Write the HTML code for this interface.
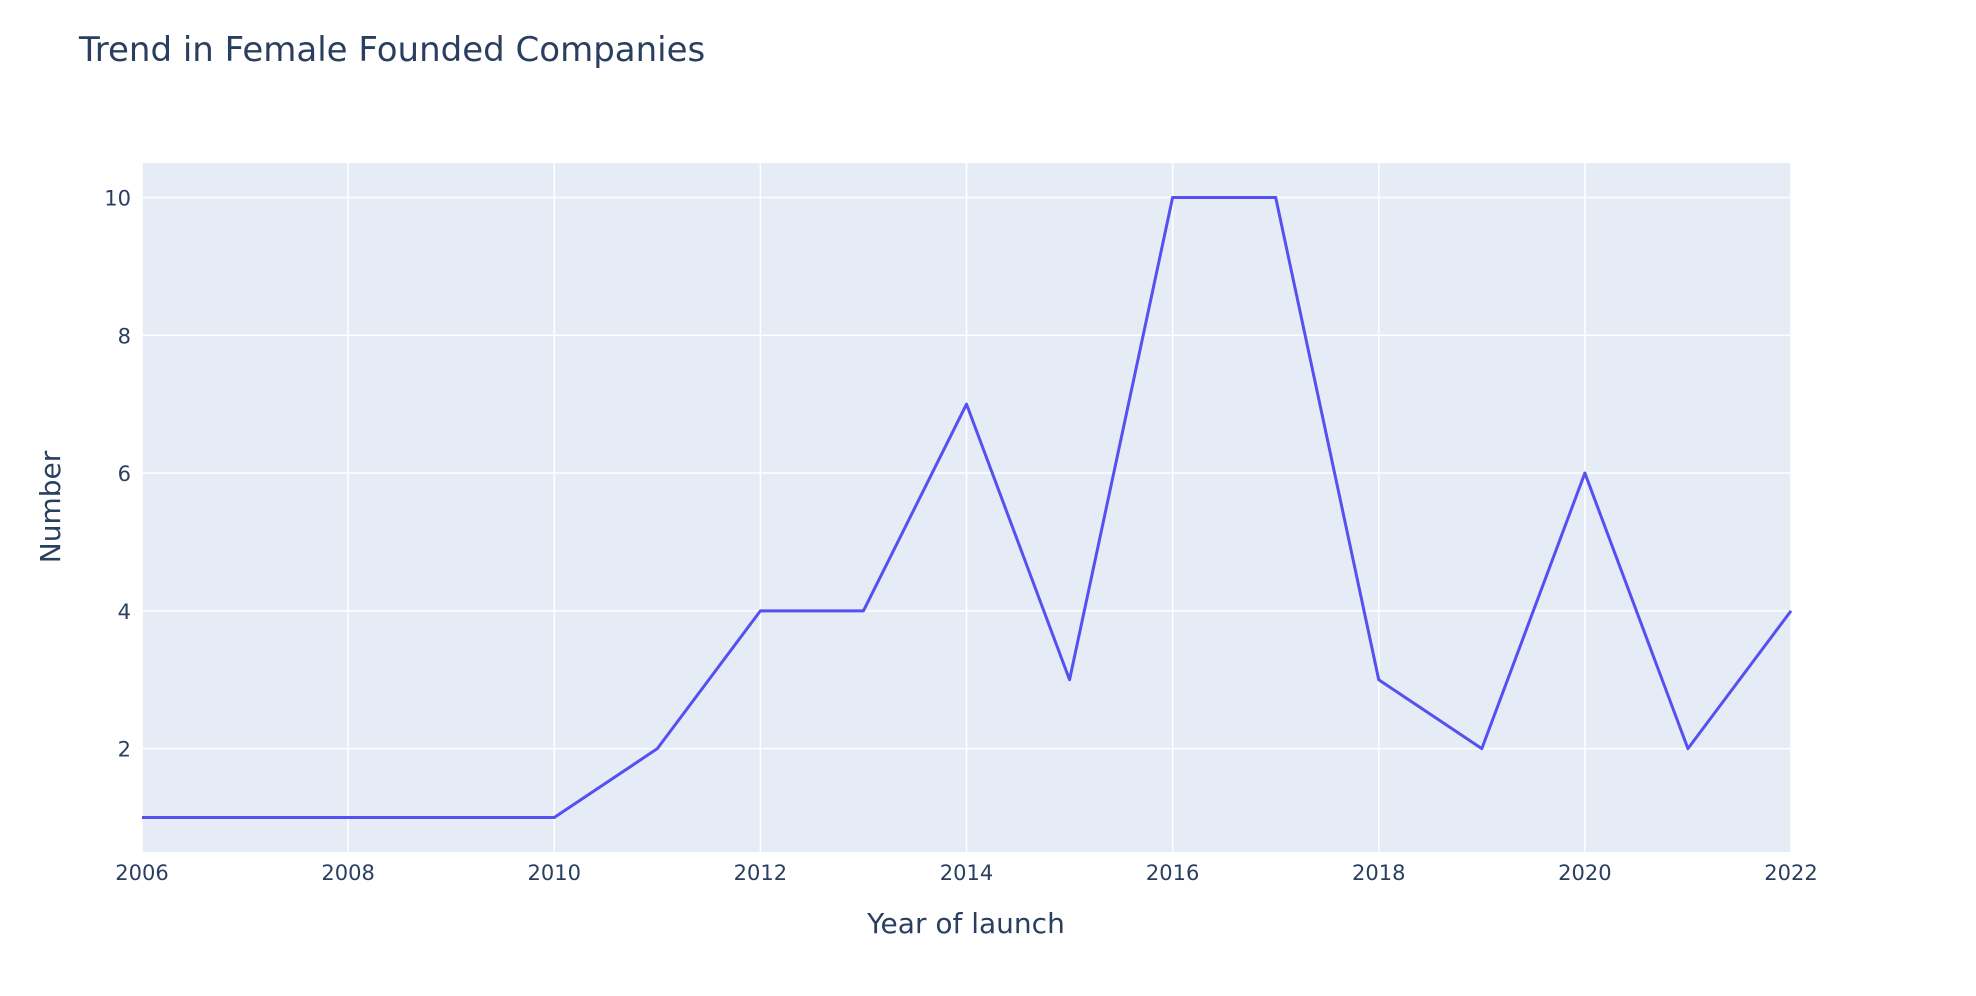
<!DOCTYPE html>
<html><head><meta charset="utf-8"><style>
html,body{margin:0;padding:0;background:#fff;}
svg{display:block;font-family:"DejaVu Sans","Liberation Sans",sans-serif;}
</style></head><body>
<svg id="chart" width="1976" height="996" viewBox="0 0 1976 996">
<text x="79" y="61" font-size="34" fill="#2a3f5f">Trend in Female Founded Companies</text>
<rect x="142" y="163" width="1649" height="689" fill="#e5ecf6"/>
<g id="grid"></g>
<g id="ticks"></g>
<path id="line" fill="none" stroke="#5450f2" stroke-width="3" stroke-linejoin="round"/>
<text x="966" y="933" font-size="28" fill="#2a3f5f" text-anchor="middle">Year of launch</text>
<text transform="translate(60,507) rotate(-90)" font-size="28" fill="#2a3f5f" text-anchor="middle">Number</text>
</svg>
<script>
const years = [2006,2007,2008,2009,2010,2011,2012,2013,2014,2015,2016,2017,2018,2019,2020,2021,2022];
const counts = [1,1,1,1,1,2,4,4,7,3,10,10,3,2,6,2,4];
const xTicks = [2006,2008,2010,2012,2014,2016,2018,2020,2022];
const yTicks = [2,4,6,8,10];
const L=142,R=1791,T=163,B=852,X0=2006,X1=2022,Y0=0.5,Y1=10.5;
const ns="http://www.w3.org/2000/svg";
function xs(v){return L+(v-X0)/(X1-X0)*(R-L);}
function ys(v){return B-(v-Y0)/(Y1-Y0)*(B-T);}
const grid=document.getElementById('grid'),ticks=document.getElementById('ticks');
xTicks.forEach(t=>{
  const l=document.createElementNS(ns,'line');
  l.setAttribute('x1',xs(t));l.setAttribute('x2',xs(t));l.setAttribute('y1',T);l.setAttribute('y2',B);
  l.setAttribute('stroke','#fff');l.setAttribute('stroke-width','1.5');
  
  
  grid.appendChild(l);
  const tx=document.createElementNS(ns,'text');
  tx.setAttribute('x',xs(t));tx.setAttribute('y',880);tx.setAttribute('font-size','21');
  tx.setAttribute('fill','#2a3f5f');tx.setAttribute('text-anchor','middle');tx.textContent=t;
  
  
  ticks.appendChild(tx);
});
yTicks.forEach(t=>{
  const l=document.createElementNS(ns,'line');
  l.setAttribute('x1',L);l.setAttribute('x2',R);l.setAttribute('y1',ys(t));l.setAttribute('y2',ys(t));
  l.setAttribute('stroke','#fff');l.setAttribute('stroke-width','1.5');
  
  
  grid.appendChild(l);
  const tx=document.createElementNS(ns,'text');
  tx.setAttribute('x',131);tx.setAttribute('y',ys(t)+8);tx.setAttribute('font-size','21');
  tx.setAttribute('fill','#2a3f5f');tx.setAttribute('text-anchor','end');tx.textContent=t;
  
  
  ticks.appendChild(tx);
});
document.getElementById('line').setAttribute('d',years.map((y,i)=>(i?'L':'M')+xs(y)+','+ys(counts[i])).join(' '));
</script>
</body></html>
